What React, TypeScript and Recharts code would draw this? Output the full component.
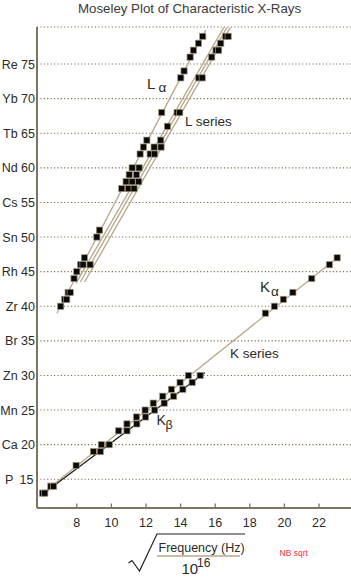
import React from 'react';
import { ScatterChart, Scatter, XAxis, YAxis, CartesianGrid } from 'recharts';

// ---- data (x = sqrt(frequency / 1e16), z = atomic number) ----
const kAlphaZ = [13, 14, 17, 19, 20, 22, 23, 24, 25, 26, 27, 28, 29, 30, 39, 40, 41, 42, 44, 46, 47];
const kAlphaX = [6.02, 6.5, 7.96, 8.96, 9.42, 10.42, 10.9, 11.45, 11.95, 12.42, 12.97, 13.47, 13.97, 14.45, 18.9, 19.42, 19.94, 20.49, 21.58, 22.6, 23.05];
const kBetaZ = [13, 14, 19, 20, 22, 23, 24, 25, 26, 27, 28, 29, 30];
const kBetaX = [6.15, 6.66, 9.36, 9.87, 10.9, 11.47, 11.97, 12.5, 13.05, 13.6, 14.13, 14.67, 15.13];

const lAlphaZ = [40, 41, 42, 44, 45, 46, 47, 50, 51, 57, 58, 59, 60, 62, 63, 64, 68, 73, 74, 76, 77, 78, 79];
const lAlphaX = [7.07, 7.3, 7.5, 7.84, 8.0, 8.22, 8.44, 9.16, 9.31, 10.6, 10.85, 11.03, 11.2, 11.66, 11.85, 12.05, 12.91, 14.01, 14.2, 14.55, 14.74, 15.03, 15.28];
const lBetaZ = [41, 42, 46, 57, 58, 59, 60, 62, 63, 64, 66, 68, 73, 76, 77, 78, 79];
const lBetaX = [7.42, 7.62, 8.36, 10.98, 11.2, 11.45, 11.6, 12.24, 12.47, 12.85, 13.24, 13.8, 15.05, 15.8, 16.05, 16.32, 16.6];
const lGammaZ = [46, 57, 58, 62, 63, 68, 73, 77, 79];
const lGammaX = [8.77, 11.31, 11.58, 12.5, 12.87, 13.95, 15.25, 16.2, 16.75];

// straight fit lines (end points)
const kAlphaFitX = [5.88, 23.2];
const kAlphaFitZ = [12.7, 47.3];
const kBetaFitX = [6.0, 15.4];
const kBetaFitZ = [12.8, 30.4];
const lAlphaFitX = [6.85, 15.45];
const lAlphaFitZ = [39.0, 79.9];
const lFitBX = [7.95, 16.5];
const lFitBZ = [43.3, 80.3];
const lFitCX = [8.2, 16.68];
const lFitCZ = [43.5, 80.3];
const lFitDX = [8.45, 16.88];
const lFitDZ = [43.5, 80.3];

const yTicks = [15, 20, 25, 30, 35, 40, 45, 50, 55, 60, 65, 70, 75];
const yTickSymbols = ['P', 'Ca', 'Mn', 'Zn', 'Br', 'Zr', 'Rh', 'Sn', 'Cs', 'Nd', 'Tb', 'Yb', 'Re'];
const xTicks = [8, 10, 12, 14, 16, 18, 20, 22];

const zip = (xs: number[], zs: number[]) => xs.map((x, i) => ({ x, z: zs[i] }));

const FONT = '"Liberation Sans", Arial, Helvetica, sans-serif';
const AXIS = '#7f7361';
const TAN = '#b8a789';
const TEXT = '#2a2a2a';

const Marker = (props: any) => {
  const { cx, cy } = props;
  if (cx == null || cy == null) return <g />;
  return (
    <rect x={cx - 3.1} y={cy - 3.1} width={6.2} height={6.2} fill="#0a0a0a" stroke="#a8987a" strokeWidth={0.7} />
  );
};
const NoShape = () => <g />;

const YTick = (props: any) => {
  const { x, y, payload } = props;
  const v = payload.value;
  const sym = yTickSymbols[yTicks.indexOf(v)];
  if (v === 15) {
    return (
      <g fontFamily={FONT} fontSize={12.5} fill={TEXT}>
        <text x={5} y={y + 4.5} fill={TEXT}>P</text>
        <text x={x - 3.5} y={y + 4.5} textAnchor="end" fill={TEXT}>15</text>
      </g>
    );
  }
  return (
    <text x={x - 2} y={y + 4.5} textAnchor="end" fontFamily={FONT} fontSize={12.5} fill={TEXT}>
      {`${sym} ${v}`}
    </text>
  );
};

const XTick = (props: any) => {
  const { x, y, payload } = props;
  return (
    <g>
      <line x1={x} x2={x} y1={y} y2={y - 4.5} stroke={AXIS} strokeWidth={1.3} />
      <text x={x} y={y + 19} textAnchor="middle" fontFamily={FONT} fontSize={12.5} fill={TEXT}>
        {payload.value}
      </text>
    </g>
  );
};

export default function App() {
  return (
    <div style={{ position: 'absolute', left: 0, top: 0, width: 351, height: 579, background: '#fff' }}>
      <ScatterChart width={351} height={579} margin={{ top: 27, right: 0, bottom: 0, left: 0 }}>
        <CartesianGrid horizontal={true} vertical={false} stroke="#76643f" strokeWidth={1.1} strokeDasharray="1.1 2.3" />
        <XAxis
          type="number"
          dataKey="x"
          domain={[5.7, 23.85]}
          allowDataOverflow
          ticks={xTicks}
          interval={0}
          height={71}
          tickSize={0}
          tickMargin={0}
          tickLine={false}
          axisLine={{ stroke: AXIS, strokeWidth: 2 }}
          tick={<XTick />}
        />
        <YAxis
          type="number"
          dataKey="z"
          domain={[10.85, 80.35]}
          allowDataOverflow
          ticks={yTicks}
          interval={0}
          width={37}
          tickSize={0}
          tickMargin={0}
          tickLine={false}
          axisLine={{ stroke: AXIS, strokeWidth: 2 }}
          tick={<YTick />}
        />
        <Scatter data={zip(lAlphaFitX, lAlphaFitZ)} line={{ stroke: TAN, strokeWidth: 1.3 }} shape={NoShape} isAnimationActive={false} legendType="none" />
        <Scatter data={zip(lFitBX, lFitBZ)} line={{ stroke: TAN, strokeWidth: 1.3 }} shape={NoShape} isAnimationActive={false} legendType="none" />
        <Scatter data={zip(lFitCX, lFitCZ)} line={{ stroke: TAN, strokeWidth: 1.3 }} shape={NoShape} isAnimationActive={false} legendType="none" />
        <Scatter data={zip(lFitDX, lFitDZ)} line={{ stroke: TAN, strokeWidth: 1.3 }} shape={NoShape} isAnimationActive={false} legendType="none" />
        <Scatter data={zip(kAlphaFitX, kAlphaFitZ)} line={{ stroke: TAN, strokeWidth: 1.3 }} shape={NoShape} isAnimationActive={false} legendType="none" />
        <Scatter data={zip(kBetaFitX, kBetaFitZ)} line={{ stroke: '#1a1a1a', strokeWidth: 1.2 }} shape={NoShape} isAnimationActive={false} legendType="none" />
        <Scatter data={zip(kAlphaX, kAlphaZ)} shape={Marker} isAnimationActive={false} legendType="none" />
        <Scatter data={zip(kBetaX, kBetaZ)} shape={Marker} isAnimationActive={false} legendType="none" />
        <Scatter data={zip(lAlphaX, lAlphaZ)} shape={Marker} isAnimationActive={false} legendType="none" />
        <Scatter data={zip(lBetaX, lBetaZ)} shape={Marker} isAnimationActive={false} legendType="none" />
        <Scatter data={zip(lGammaX, lGammaZ)} shape={Marker} isAnimationActive={false} legendType="none" />
      </ScatterChart>
      <svg width={351} height={579} style={{ position: 'absolute', left: 0, top: 0, pointerEvents: 'none' }} fontFamily={FONT}>
        <text x={189.5} y={12.8} textAnchor="middle" fontSize={13.3} fill="#3a3a3a">Moseley Plot of Characteristic X-Rays</text>
        <text x={147} y={88.5} fontSize={15} fill={TEXT}>L</text>
        <text x={158.5} y={91.5} fontSize={13.5} fill={TEXT}>α</text>
        <text x={185} y={126} fontSize={13.5} fill={TEXT}>L series</text>
        <text x={260} y={292} fontSize={15} fill={TEXT}>K</text>
        <text x={271} y={295.5} fontSize={13.5} fill={TEXT}>α</text>
        <text x={230} y={357.5} fontSize={13.5} fill={TEXT}>K series</text>
        <text x={156.5} y={425} fontSize={14} fill={TEXT}>K</text>
        <text x={165.5} y={428.5} fontSize={12.5} fill={TEXT}>β</text>
        <path d="M128.5,563 L132,560.5 L139.5,571 L157,534 L245,534" fill="none" stroke="#222" strokeWidth={1.2} />
        <text x={158.5} y={552} fontSize={12.5} fill={TEXT}>Frequency (Hz)</text>
        <line x1={157} x2={240} y1={556} y2={556} stroke={TAN} strokeWidth={1.5} />
        <text x={181.5} y={573.5} fontSize={15} fill={TEXT}>10</text>
        <text x={197} y={566.5} fontSize={12} fill={TEXT}>16</text>
        <text x={279.5} y={556} fontSize={8.5} fill="#ff2d3d">NB sqrt</text>
      </svg>
    </div>
  );
}
